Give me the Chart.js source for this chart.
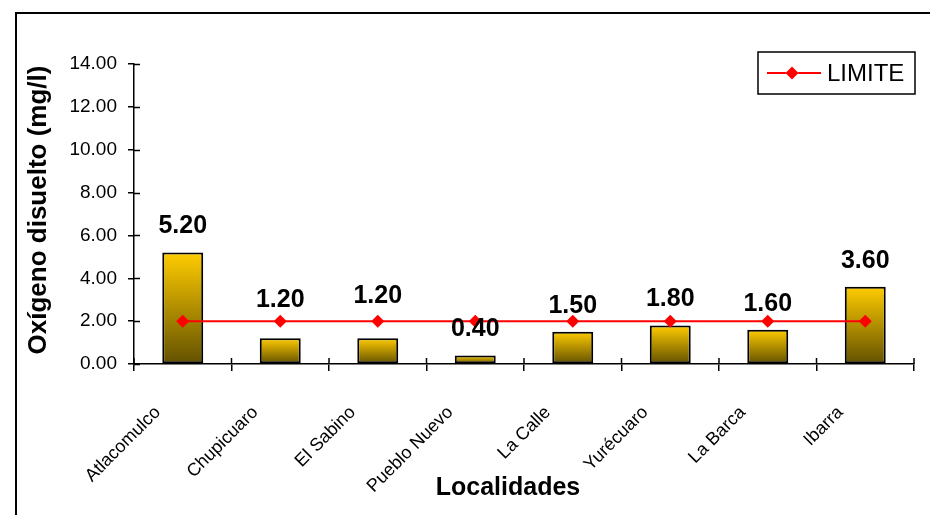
<!DOCTYPE html>
<html>
<head>
<meta charset="utf-8">
<script src="https://cdn.jsdelivr.net/npm/chart.js@4"></script>
<style>
  html, body { margin: 0; padding: 0; background: #fff; }
  #wrap { width: 930px; height: 515px; position: relative; }
</style>
</head>
<body>
<div id="wrap"><canvas id="c" width="930" height="515"></canvas></div>
<script>
// Dissolved oxygen per sampling site, with the regulatory limit line
const localidades = ['Atlacomulco', 'Chupicuaro', 'El Sabino', 'Pueblo Nuevo', 'La Calle', 'Yurécuaro', 'La Barca', 'Ibarra'];
const oxigeno = [5.20, 1.20, 1.20, 0.40, 1.50, 1.80, 1.60, 3.60];
const limite = [2.00, 2.00, 2.00, 2.00, 2.00, 2.00, 2.00, 2.00];
const yTicks = [0, 2, 4, 6, 8, 10, 12, 14];
// extra lift (px) for value labels that would otherwise sit on the limit line
const labelLift = [0, 12, 16, 0, 0, 0, 0, 0];

const FONT = '"Liberation Sans", Arial, Helvetica, sans-serif';

// gold-to-olive vertical gradient, one per bar
function barFill(ctx) {
  const chart = ctx.chart;
  if (!chart.chartArea || ctx.type !== 'data') return '#E0B000';
  const y = chart.scales.y;
  const top = y.getPixelForValue(ctx.raw);
  const base = y.getPixelForValue(0);
  const g = chart.ctx.createLinearGradient(0, top, 0, base);
  g.addColorStop(0, '#FFCC00');
  g.addColorStop(1, '#625000');
  return g;
}

const decorations = {
  id: 'decorations',
  afterDatasetsDraw(chart) {
    const c = chart.ctx;
    const ys = chart.scales.y, xs = chart.scales.x;
    // inner halves of the crossing tick marks
    c.save();
    c.strokeStyle = '#000';
    c.lineWidth = 1.5;
    yTicks.forEach(v => {
      const py = Math.round(ys.getPixelForValue(v)) + 0.5;
      c.beginPath();
      c.moveTo(ys.right, py);
      c.lineTo(ys.right + 6, py);
      c.stroke();
    });
    for (let i = 0; i <= localidades.length; i++) {
      const px = xs.left + (xs.right - xs.left) * i / localidades.length;
      c.beginPath();
      c.moveTo(px, xs.top);
      c.lineTo(px, xs.top - 6);
      c.stroke();
    }
    c.restore();

    // value labels above the bars
    const meta = chart.getDatasetMeta(0);
    c.save();
    c.font = 'bold 25px ' + FONT;
    c.fillStyle = '#000';
    c.textAlign = 'center';
    c.textBaseline = 'middle';
    meta.data.forEach((el, i) => {
      c.fillText(oxigeno[i].toFixed(2), el.x, el.y - 26 - labelLift[i]);
    });
    c.restore();
  },
  afterDraw(chart) {
    const c = chart.ctx;
    c.save();
    // outer frame
    c.strokeStyle = '#000';
    c.lineWidth = 2;
    c.beginPath();
    c.moveTo(930, 13);
    c.lineTo(16, 13);
    c.lineTo(16, 515);
    c.stroke();

    // axis titles
    c.fillStyle = '#000';
    c.font = 'bold 25px ' + FONT;
    c.textAlign = 'center';
    c.textBaseline = 'alphabetic';
    c.fillText('Localidades', 508, 495);
    c.font = 'bold 26px ' + FONT;
    c.translate(46, 210);
    c.rotate(-Math.PI / 2);
    c.fillText('Oxígeno disuelto (mg/l)', 0, 0);
    c.restore();

    // legend box
    const ds = chart.data.datasets[1];
    c.save();
    c.fillStyle = '#fff';
    c.fillRect(758, 52, 157, 42);
    c.strokeStyle = '#000';
    c.lineWidth = 1.5;
    c.strokeRect(758, 52, 157, 42);
    c.strokeStyle = ds.borderColor;
    c.lineWidth = ds.borderWidth;
    c.beginPath();
    c.moveTo(767, 73);
    c.lineTo(821, 73);
    c.stroke();
    Chart.helpers.drawPoint(c, { pointStyle: 'rectRot', radius: ds.pointRadius, borderWidth: 0, rotation: 0 }, 792, 73);
    c.fillStyle = ds.pointBackgroundColor;
    c.fill();
    c.fillStyle = '#000';
    c.font = '24px ' + FONT;
    c.textAlign = 'left';
    c.textBaseline = 'middle';
    c.fillText(ds.label, 827, 74);
    c.restore();
  }
};

new Chart(document.getElementById('c'), {
  data: {
    labels: localidades,
    datasets: [
      {
        type: 'bar',
        label: 'Oxígeno disuelto',
        data: oxigeno,
        backgroundColor: barFill,
        borderColor: '#000',
        borderWidth: 2,
        borderSkipped: false,
        categoryPercentage: 1,
        barPercentage: 0.42,
        order: 2
      },
      {
        type: 'line',
        label: 'LIMITE',
        data: limite,
        borderColor: '#FF0000',
        borderWidth: 2,
        pointStyle: 'rectRot',
        pointRadius: 6.5,
        pointBackgroundColor: '#FF0000',
        pointBorderColor: '#FF0000',
        pointBorderWidth: 0,
        tension: 0,
        order: 1
      }
    ]
  },
  options: {
    responsive: false,
    animation: false,
    devicePixelRatio: 1,
    layout: { padding: { top: 64, right: 16, bottom: 0, left: 0 } },
    plugins: { legend: { display: false }, tooltip: { enabled: false } },
    scales: {
      x: {
        offset: true,
        grid: { offset: true, drawOnChartArea: false, drawTicks: true, tickLength: 7, color: '#000', lineWidth: 1.5 },
        border: { display: true, color: '#000', width: 1.5 },
        ticks: {
          minRotation: 45, maxRotation: 45,
          padding: 31,
          labelOffset: -25,
          color: '#000',
          font: { family: FONT, size: 18 }
        },
        afterFit(s) { s.height = 151; }
      },
      y: {
        min: 0, max: 14,
        afterBuildTicks(s) { s.ticks = yTicks.map(v => ({ value: v })); },
        grid: { drawOnChartArea: false, drawTicks: true, tickLength: 6, color: '#000', lineWidth: 1.5 },
        border: { display: true, color: '#000', width: 1.5 },
        ticks: {
          padding: 11,
          color: '#000',
          font: { family: FONT, size: 19 },
          callback: v => Number(v).toFixed(2)
        },
        afterFit(s) { s.width = 134; }
      }
    }
  },
  plugins: [decorations]
});
</script>
</body>
</html>
